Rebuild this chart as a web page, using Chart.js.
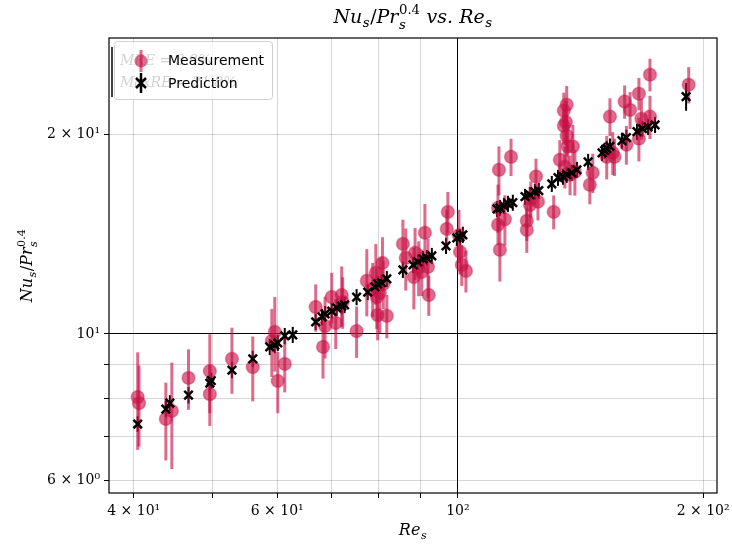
<!DOCTYPE html>
<html>
<head>
<meta charset="utf-8">
<script src="https://cdn.jsdelivr.net/npm/chart.js"></script>
<style>
  html, body { margin: 0; padding: 0; background: #fff; }
</style>
</head>
<body>
<canvas id="Chart" width="732" height="544"></canvas>
<script>
// measured Nu/Pr^0.4 vs Re (with error bars)
var measRe = [40.45, 40.6, 43.8, 44.55, 46.7, 49.6, 49.6, 52.8, 56.0, 59.1, 59.6, 60.1, 61.3,
  66.9, 68.3, 68.7, 70.0, 70.8, 72.0, 72.2, 75.1, 77.3, 79.3, 79.5, 79.7, 80.2, 80.8, 81.8, 78.6, 81.0,
  85.6, 86.3, 88.6, 88.3, 90.3, 91.1, 91.9, 92.1, 89.5, 97.2, 96.9, 100.3, 100.6, 101.1, 102.3,
  112.3, 116.2, 112.0, 112.0, 112.6, 114.2, 121.5, 121.5, 122.6, 124.7, 125.4, 131.1, 122.9,
  136.0, 134.9, 135.7, 134.9, 136.0, 136.4, 138.4, 133.4, 139.2, 145.2, 146.4, 153.7, 152.3, 155.7,
  160.2, 162.7, 166.8, 168.0, 172.1, 172.1, 192.0, 166.8, 154.9, 161.0, 135.3, 137.3];
var measNu = [8.03, 7.86, 7.44, 7.65, 8.58, 8.79, 8.11, 9.17, 8.91, 9.76, 10.07, 8.49, 9.01,
  10.98, 9.56, 10.28, 11.37, 10.39, 11.45, 11.18, 10.1, 12.03, 12.37, 11.37, 10.68, 11.53, 12.8, 10.65, 11.7, 11.9,
  13.68, 13.03, 13.26, 12.19, 12.41, 14.22, 12.63, 11.45, 12.6, 15.29, 14.41, 14.1, 13.3, 12.72, 12.45,
  17.7, 18.52, 15.51, 14.62, 13.4, 14.9, 14.82, 14.36, 15.67, 17.3, 15.84, 15.29, 16.0,
  22.2, 21.75, 20.9, 20.63, 19.93, 19.2, 19.2, 18.33, 17.58, 16.8, 17.52, 21.3, 18.52, 18.52,
  22.44, 21.8, 23.07, 21.15, 24.65, 21.3, 23.8, 19.73, 18.78, 19.32, 17.89, 17.4];
var measErr = [1.35, 1.1, 1.0, 1.4, 0.9, 1.2, 0.85, 1.05, 1.0, 1.15, 1.3, 0.9, 0.85,
  0.9, 1.0, 1.1, 1.0, 0.9, 1.2, 1.0, 0.9, 1.4, 1.3, 1.2, 0.9, 1.5, 1.2, 0.8, 1.1, 1.0,
  1.2, 1.4, 1.2, 1.3, 1.0, 1.5, 1.3, 0.8, 1.2, 1.1, 1.0, 1.3, 1.0, 0.9, 0.9,
  1.5, 1.2, 1.3, 1.0, 1.4, 1.3, 1.0, 1.1, 1.0, 1.1, 1.0, 0.9, 1.0,
  1.5, 1.4, 1.6, 1.3, 1.4, 1.5, 1.5, 1.3, 1.4, 1.1, 1.2, 1.4, 1.4, 1.2,
  1.3, 1.4, 1.3, 1.5, 1.4, 1.6, 1.5, 1.5, 1.4, 1.3, 1.3, 1.2];

// predicted values
var predRe = [40.45, 43.8, 44.3, 46.7, 49.6, 49.8, 52.8, 56.0, 58.75, 59.6, 60.1, 61.3, 62.7,
  66.9, 68.1, 68.7, 70.0, 71.0, 72.0, 72.6, 75.1, 77.5, 79.1, 79.7, 80.6, 81.8,
  85.6, 88.1, 89.3, 90.6, 91.6, 92.9, 96.7, 99.7, 100.6, 101.4,
  111.7, 112.6, 113.9, 115.2, 116.8, 120.9, 122.6, 124.3, 125.7,
  130.4, 132.7, 134.6, 136.0, 138.0, 140.0, 144.5, 150.3, 151.4, 152.3, 153.7,
  159.0, 161.0, 165.9, 168.5, 171.2, 174.6, 190.6];
var predNu = [7.31, 7.7, 7.86, 8.08, 8.43, 8.5, 8.82, 9.17, 9.56, 9.62, 9.69, 9.93, 9.97,
  10.43, 10.61, 10.72, 10.83, 10.95, 11.02, 11.06, 11.37, 11.57, 11.78, 11.9, 11.95, 12.11,
  12.5, 12.72, 12.85, 12.98, 13.03, 13.12, 13.59, 13.97, 14.02, 14.12,
  15.45, 15.51, 15.62, 15.73, 15.79, 16.12, 16.22, 16.4, 16.46,
  16.86, 17.22, 17.28, 17.4, 17.52, 17.7, 18.2, 18.78, 18.92, 19.05, 19.2,
  19.59, 19.8, 20.21, 20.42, 20.56, 20.7, 22.84];
var predErr = [0.2, 0.22, 0.22, 0.23, 0.24, 0.24, 0.25, 0.26, 0.27, 0.27, 0.27, 0.28, 0.28,
  0.29, 0.3, 0.3, 0.3, 0.31, 0.31, 0.31, 0.32, 0.32, 0.33, 0.33, 0.33, 0.34,
  0.35, 0.36, 0.36, 0.36, 0.36, 0.37, 0.38, 0.39, 0.39, 0.4,
  0.43, 0.43, 0.44, 0.44, 0.44, 0.45, 0.45, 0.46, 0.46,
  0.47, 0.48, 0.48, 0.49, 0.49, 0.5, 0.51, 0.53, 0.53, 0.53, 0.54,
  0.55, 0.55, 0.57, 0.57, 0.58, 0.58, 1.1];

// axis ticks + labels
var reTicks = [40, 50, 60, 70, 80, 90, 100, 200];
var reTickLabels = ['4 × 10¹', '', '6 × 10¹', '', '', '', '10²', '2 × 10²'];
var nuTicks = [6, 7, 8, 9, 10, 20];
var nuTickLabels = ['6 × 10⁰', '', '', '', '10¹', '2 × 10¹'];
var legendNames = ['Measurement', 'Prediction'];
var noteLines = ['MRE = 3.8%', 'MaxRE = 21.8%'];

var RED = 'rgba(200,16,70,0.62)';
var SERIF = '"DejaVu Serif", "Liberation Serif", serif';

function pts(xs, ys) {
  var out = [];
  for (let i = 0; i < xs.length; i++) out.push({x: xs[i], y: ys[i]});
  return out;
}

// text with sub/superscripts, kinds: n, sub, sup, ss (sub+sup)
function drawMath(ctx, segs, x, y, size) {
  var small = size * 0.7;
  var font = (s, it) => (it ? 'italic ' : '') + s + 'px ' + SERIF;
  var widths = segs.map(sg => {
    if (sg[1] === 'n') { ctx.font = font(size, sg[2]); return ctx.measureText(sg[0]).width; }
    if (sg[1] === 'ss') {
      ctx.font = font(small, true); var a = ctx.measureText(sg[0][0]).width;
      ctx.font = font(small, false); var b = ctx.measureText(sg[0][1]).width;
      return Math.max(a, b) + 1;
    }
    ctx.font = font(small, sg[2]); return ctx.measureText(sg[0]).width + 1;
  });
  var total = widths.reduce((a, b) => a + b, 0);
  var cx = x - total / 2;
  ctx.textAlign = 'left';
  ctx.textBaseline = 'alphabetic';
  ctx.fillStyle = '#000';
  segs.forEach((sg, i) => {
    if (sg[1] === 'n') { ctx.font = font(size, sg[2]); ctx.fillText(sg[0], cx, y); }
    else if (sg[1] === 'sub') { ctx.font = font(small, sg[2]); ctx.fillText(sg[0], cx + 0.5, y + size * 0.22); }
    else if (sg[1] === 'sup') { ctx.font = font(small, sg[2]); ctx.fillText(sg[0], cx + 0.5, y - size * 0.42); }
    else {
      ctx.font = font(small, true); ctx.fillText(sg[0][0], cx + 0.5, y + size * 0.3);
      ctx.font = font(small, false); ctx.fillText(sg[0][1], cx + 0.5, y - size * 0.45);
    }
    cx += widths[i];
  });
}

var titleSegs = [['Nu', 'n', true], ['s', 'sub', true], ['/', 'n', false], ['Pr', 'n', true],
  [['s', '0.4'], 'ss'], [' vs. ', 'n', true], ['Re', 'n', true], ['s', 'sub', true]];
var yLabelSegs = [['Nu', 'n', true], ['s', 'sub', true], ['/', 'n', false], ['Pr', 'n', true], [['s', '0.4'], 'ss']];
var xLabelSegs = [['Re', 'n', true], ['s', 'sub', true]];

const errorBars = {
  id: 'errorBars',
  beforeDatasetsDraw(chart) {
    const ctx = chart.ctx, xs = chart.scales.x, ys = chart.scales.y;
    chart.data.datasets.forEach(ds => {
      ctx.save();
      ctx.strokeStyle = ds.barColor;
      ctx.lineWidth = ds.barWidth;
      ds.data.forEach((p, i) => {
        const px = xs.getPixelForValue(p.x);
        ctx.beginPath();
        ctx.moveTo(px, ys.getPixelForValue(p.y - ds.errs[i]));
        ctx.lineTo(px, ys.getPixelForValue(p.y + ds.errs[i]));
        ctx.stroke();
      });
      ctx.restore();
    });
  }
};

const decor = {
  id: 'decor',
  afterDraw(chart) {
    const ctx = chart.ctx, a = chart.chartArea;
    ctx.save();
    // frame
    ctx.strokeStyle = '#000';
    ctx.lineWidth = 1.2;
    ctx.strokeRect(a.left, a.top, a.right - a.left, a.bottom - a.top);
    // titles
    drawMath(ctx, titleSegs, (a.left + a.right) / 2, 23, 19);
    drawMath(ctx, xLabelSegs, (a.left + a.right) / 2, 535, 16);
    ctx.save();
    ctx.translate(32, (a.top + a.bottom) / 2);
    ctx.rotate(-Math.PI / 2);
    drawMath(ctx, yLabelSegs, 0, 0, 16);
    ctx.restore();

    // faint note under the legend
    ctx.fillStyle = '#000';
    ctx.font = 'italic 14px ' + SERIF;
    ctx.textAlign = 'left';
    ctx.textBaseline = 'middle';
    ctx.fillText(noteLines[0], 120, 61);
    ctx.fillText(noteLines[1], 120, 83);
    ctx.lineWidth = 1.5;
    ctx.beginPath(); ctx.moveTo(112, 47); ctx.lineTo(112, 97); ctx.stroke();

    // legend box
    ctx.fillStyle = 'rgba(255,255,255,0.82)';
    ctx.strokeStyle = 'rgba(204,204,204,0.9)';
    ctx.lineWidth = 1;
    ctx.beginPath();
    ctx.roundRect(114.5, 41.5, 158, 58, 3);
    ctx.fill(); ctx.stroke();

    // legend: measurement
    ctx.strokeStyle = RED; ctx.lineWidth = 3;
    ctx.beginPath(); ctx.moveTo(141, 50); ctx.lineTo(141, 72); ctx.stroke();
    ctx.fillStyle = RED;
    ctx.beginPath(); ctx.arc(141, 61, 6.5, 0, Math.PI * 2); ctx.fill();
    // legend: prediction
    ctx.strokeStyle = '#000'; ctx.lineWidth = 2.5;
    ctx.beginPath();
    ctx.moveTo(141, 73); ctx.lineTo(141, 93);
    ctx.moveTo(136, 78); ctx.lineTo(146, 88);
    ctx.moveTo(146, 78); ctx.lineTo(136, 88);
    ctx.stroke();

    ctx.fillStyle = '#000';
    ctx.font = '14px "DejaVu Sans", sans-serif';
    ctx.fillText(legendNames[0], 168, 61);
    ctx.fillText(legendNames[1], 168, 84);
    ctx.restore();
  }
};

function gridColor(major) {
  return c => (c.tick && c.tick.value === major) ? '#000' : 'rgba(0,0,0,0.16)';
}

const chart = document.getElementById('Chart').getContext('2d');
const nuChart = new Chart(chart, {
  type: 'scatter',
  data: {
    datasets: [{
      label: legendNames[1],
      data: pts(predRe, predNu),
      errs: predErr,
      barColor: '#000',
      barWidth: 2,
      pointStyle: 'crossRot',
      pointRadius: 6,
      borderColor: '#000',
      borderWidth: 2.5,
      order: 1
    }, {
      label: legendNames[0],
      data: pts(measRe, measNu),
      errs: measErr,
      barColor: RED,
      barWidth: 3,
      pointStyle: 'circle',
      pointRadius: 6.5,
      backgroundColor: RED,
      borderColor: 'rgba(200,16,70,0.35)',
      borderWidth: 1.5,
      order: 2
    }]
  },
  options: {
    responsive: false,
    animation: false,
    layout: { padding: { top: 38, right: 15, left: 0, bottom: 0 } },
    plugins: { legend: { display: false }, tooltip: { enabled: false } },
    scales: {
      x: {
        type: 'logarithmic',
        min: 37.3, max: 208,
        afterBuildTicks: s => { s.ticks = reTicks.map(v => ({value: v})); },
        afterFit: s => { s.height = 51; s.paddingLeft = 0; s.paddingRight = 0; },
        border: { display: false },
        grid: { color: gridColor(100), tickColor: '#000', tickLength: 5 },
        ticks: {
          autoSkip: false, maxRotation: 0, color: '#000', padding: 5,
          font: { family: SERIF, size: 14 },
          callback: (v) => reTickLabels[reTicks.indexOf(v)] || ''
        }
      },
      y: {
        type: 'logarithmic',
        min: 5.75, max: 28.0,
        afterBuildTicks: s => { s.ticks = nuTicks.map(v => ({value: v})); },
        afterFit: s => { s.width = 109; s.paddingTop = 0; s.paddingBottom = 0; },
        border: { display: false },
        grid: { color: gridColor(10), tickColor: '#000', tickLength: 5 },
        ticks: {
          autoSkip: false, color: '#000', padding: 4,
          font: { family: SERIF, size: 14 },
          callback: (v) => nuTickLabels[nuTicks.indexOf(v)] || ''
        }
      }
    }
  },
  plugins: [errorBars, decor]
});
</script>
</body>
</html>
